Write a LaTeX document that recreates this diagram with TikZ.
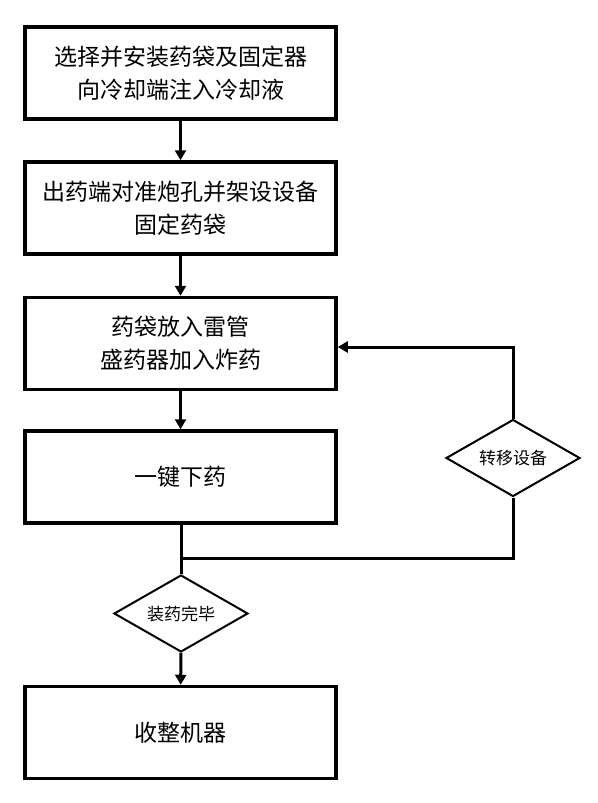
\documentclass[tikz,border=0pt]{standalone}
\usepackage{fontspec}
\newfontfamily\cjk{Noto Sans CJK SC}
\usetikzlibrary{shapes.geometric,arrows.meta}

\begin{document}
\begin{tikzpicture}[x = 1pt, y = -1pt,
    every node/.style = {inner sep = 0pt, font = \cjk},
    stepbox/.style = {draw = black, line width = 3.5pt, minimum width = 311pt, minimum height = 92pt, align = center, font = \cjk\fontsize{23}{33}\selectfont},
    choice/.style = {draw = black, line width = 2pt, shape = diamond, aspect = 1.73, minimum width = 134pt, minimum height = 77pt, font = \cjk\fontsize{17}{20}\selectfont},
    flow/.style = {line width = 3pt, -{Triangle[length = 10pt, width = 11pt]}},
    link/.style = {line width = 3pt}]
    \useasboundingbox (0, 0) rectangle (597, 803);
    \node (A) at (180.5, 73) [stepbox] {选择并安装药袋及固定器\\向冷却端注入冷却液};
    \node (B) at (180.5, 208) [stepbox] {出药端对准炮孔并架设设备\\固定药袋};
    \node (C) at (180.5, 343.5) [stepbox] {药袋放入雷管\\盛药器加入炸药};
    \node (D) at (180.5, 477) [stepbox] {一键下药};
    \node (E) at (181, 613.5) [choice] {装药完毕};
    \node (F) at (180.5, 732.5) [stepbox] {收整机器};
    \node (G) at (513, 458) [choice] {转移设备};
    \coordinate (J) at (181, 558);
    \coordinate (K) at (513, 347);
    \draw [flow] (A) -- (B);
    \draw [flow] (B) -- (C);
    \draw [flow] (C) -- (D);
    \draw [link] (D.south -| E) -- (E);
    \draw [flow] (E) -- (F);
    \draw [link] (G) |- (J);
    \draw [flow] (G) |- (C.east |- K);
\end{tikzpicture}
\end{document}
